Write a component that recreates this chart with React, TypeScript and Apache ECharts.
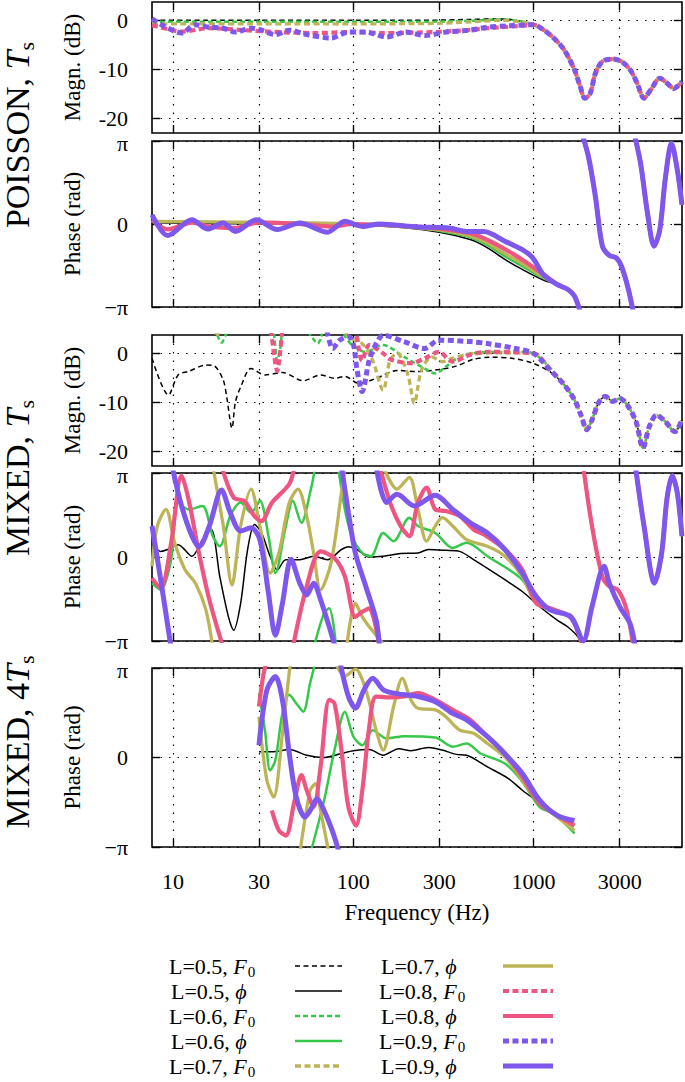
import React, { useEffect, useRef } from "react";
import * as echarts from "echarts";

type Pt = [number, number] | null;

// ---------------- axes / ticks ----------------
const FREQ_MIN = 7.66;
const FREQ_MAX = 6650;
const freqTicks = [10, 30, 100, 300, 1000, 3000];
const magnTicks = [-20, -10, 0];
const magnRange = [-23, 3.75];
const phaseTicks = [-Math.PI, 0, Math.PI];
const levels = ["0.5", "0.6", "0.7", "0.8", "0.9"];

// ---------------- Panel 1: POISSON, Ts  magnitude (dB) ----------------
const poisMagTail: Pt[] = [[1000, -0.9], [1131, -1.9], [1292, -3.6], [1476, -6.0], [1686, -10.1], [1802, -13.2], [1927, -15.9], [2059, -14.9], [2202, -10.8], [2406, -8.4], [2748, -7.9], [3070, -8.4], [3430, -10.1], [3748, -12.8], [4095, -15.9], [4475, -14.1], [5012, -11.8], [5483, -12.8], [5992, -13.9], [6648, -12.5]];
const poisMagL05: Pt[] = [[7.66, 0], [15, 0], [30, 0], [60, 0], [100, 0], [200, 0], [300, 0.05], [450, 0.2], [600, 0.3], [750, 0.2], [900, -0.4]];
const poisMagL06: Pt[] = [[7.66, -0.3], [30, -0.3], [100, -0.3], [300, -0.25], [500, 0], [650, 0.2], [800, 0]];
const poisMagL07: Pt[] = [[7.66, -0.7], [30, -0.7], [100, -0.7], [300, -0.6], [500, -0.2], [650, 0], [800, -0.2]];
const poisMagL08: Pt[] = [[7.66, -1.0], [9.4, -1.8], [11.2, -2.3], [15.9, -1.6], [24.8, -2.0], [38.7, -2.4], [60, -2.6], [100, -2.4], [146, -2.6], [228, -2.5], [356, -2.2], [555, -1.6], [865, -1.1]];
const poisMagL09: Pt[] = [[7.66, 0.3], [8.95, -1.2], [11.2, -2.6], [13.3, -0.9], [15.9, -1.4], [19, -1.6], [22.2, -2.4], [27.1, -1.6], [30.4, -1.9], [37, -2.9], [44.2, -2.0], [55.2, -2.9], [75.3, -3.6], [94, -2.4], [117, -2.4], [153, -3.4], [196, -2.4], [250, -3.1], [326, -2.4], [445, -2.0], [555, -1.4], [725, -1.1]];

// ---------------- Panel 2: POISSON, Ts  phase (rad) ----------------
const poisPhiTail: Pt[] = [[1351, -2.29], [1543, -2.47], [1686, -2.73], [1826, -3.4], null, [1858, 3.4], [2014, 2.55], [2202, 1.04], [2406, -0.84], [2629, -1.19], [2873, -1.28], [3070, -1.6], [3354, -2.47], [3585, -3.4], null, [3617, 3.4], [3918, 2.3], [4281, 0.41], [4657, -0.84], [5012, -0.21], [5363, 1.67], [5814, 3.05], [6263, 2.05], [6648, 0.73]];
const poisPhiL05: Pt[] = [[7.66, 0.05], [30, 0], [100, -0.05], [200, -0.15], [300, -0.31], [445, -0.59], [555, -0.9], [693, -1.34], [866, -1.72], [1131, -2.12]];
const poisPhiL06: Pt[] = [[7.66, 0.1], [30, 0.05], [100, 0], [200, -0.1], [300, -0.26], [445, -0.5], [555, -0.8], [693, -1.22], [866, -1.6], [1131, -2.05]];
const poisPhiL07: Pt[] = [[7.66, 0.1], [100, 0], [300, -0.22], [445, -0.45], [555, -0.72], [693, -1.12], [866, -1.5], [1131, -2.0]];
const poisPhiL08: Pt[] = [[7.66, 0.15], [9.4, -0.2], [12.8, 0.05], [16, -0.1], [22, -0.15], [30, 0.05], [50, 0], [75, -0.1], [100, 0], [200, -0.08], [300, -0.18], [445, -0.35], [555, -0.6], [693, -0.95], [866, -1.35], [1131, -1.9]];
const poisPhiL09: Pt[] = [[7.66, 0.35], [9.36, -0.44], [12.76, 0.16], [15.6, -0.19], [19.0, 0.04], [22.2, -0.28], [29, 0.16], [37.9, -0.21], [50.5, 0.04], [72, -0.31], [89.9, 0.1], [112, -0.09], [140, 0], [228, -0.11], [340, -0.15], [425, -0.28], [531, -0.28], [693, -0.65], [866, -0.97], [989, -1.28], [1131, -1.91]];

// ---------------- Panel 3: MIXED, Ts  magnitude (dB) ----------------
const mixMagTail: Pt[] = [[1476, -6.4], [1686, -9.5], [1843, -12.9], [1970, -15.6], [2107, -13.6], [2300, -10.0], [2500, -8.8], [2750, -9.8], [3003, -9.2], [3300, -10.5], [3700, -14.0], [4040, -19.3], [4376, -15.0], [4800, -12.6], [5400, -14.0], [6060, -16.0], [6648, -13.6]];
const mixMagL05: Pt[] = [[7.66, -1.0], [9.45, -8.5], [10.7, -4.4], [12.2, -3.7], [15.2, -2.4], [17.0, -2.6], [19.0, -5.4], [19.9, -9], [21.26, -15.3], [22.2, -10], [23.8, -6.8], [27.1, -3.1], [32.4, -4.4], [40.5, -3.9], [52.8, -5.6], [65.9, -4.4], [78.7, -5.1], [89.9, -4.7], [107, -6.1], [134, -5.1], [175, -3.5], [228, -3.7], [298, -3.3], [372, -2.6], [465, -1.2], [580, -0.8], [758, -1.0], [989, -2.0], [1236, -3.8]];
const mixMagL06: Pt[] = [[7.66, 6], [16.3, 6], [17.4, 4.2], [18.6, 2.2], [19.9, 4.2], [21.5, 6], [35.4, 6], [36.6, 3], [37.9, -1.5], [39.6, 1.5], [41.5, 6], [55.2, 6], [57.7, 3.8], [61.7, 2.4], [63.5, 2], [66, 3], [70, 6], [86, 6], [89.9, 3.5], [100, 1.5], [117, 0.3], [146, 1.7], [191, -0.7], [249, -3.1], [285, -4.1], [326, -2.7], [389, -0.7], [465, 0], [555, 0.3], [866, 0.3], [1000, 0], [1236, -3.0]];
const mixMagL07: Pt[] = [[7.66, 6], [16.7, 6], [17.6, 3.4], [18.6, 6], [86, 6], [94, 3.4], [112, 2.0], [128, -1.4], [146.5, -7.5], [160, -1.4], [175, 0], [200, -4.1], [218, -10.2], [239, -3.4], [273, -0.7], [312, -1.7], [356, -1.0], [465, 0], [725, 0.1], [1000, 0], [1236, -3.2]];
const mixMagL08: Pt[] = [[7.66, 6], [34, 6], [35.0, 4.5], [36.6, -1], [37.9, -3.6], [39.0, -1], [40.5, 4.5], [42, 6], [100, 6], [104, 4], [112, -1.5], [122.7, 1.7], [146.5, 0], [160, -1.2], [209, -2.0], [250, -1.0], [298, 0.3], [356, -1.7], [445, -0.3], [555, 0.3], [1000, 0], [1236, -3.4]];
const mixMagL09: Pt[] = [[7.66, 6], [70, 6], [72, 4], [77, 1.0], [84, 2.7], [94, 3.4], [100, 2], [105, -3.4], [112, -7.8], [122.7, -1.4], [134, 2], [146.5, 3.7], [191, 2.4], [249, 1.0], [298, 2.7], [445, 2.4], [555, 2.0], [792, 1.0], [1000, 0], [1236, -3.4]];

// ---------------- Panel 4: MIXED, Ts  phase (rad) ----------------
const mixPhiEnd: Pt[] = [[3666, 3.4], [4095, 1.16], [4678, -0.98], [5130, 0.15], [5483, 2.16], [5862, 3.04], [6263, 2.4], [6648, 0.78]];
const mixPhiTail: Pt[] = [[1035, -1.73], [1236, -1.92], [1543, -2.17], [1686, -2.49], [1883, -3.4], null, [1883, 3.4], [2107, 1.16], [2406, -0.73], [2629, -1.1], [2937, -1.23], [3281, -1.98], [3585, -3.4], null];
const mixPhiL05: Pt[] = [[7.66, 0.5], [8.56, 0.21], [9.36, 0.28], [10.7, 0.46], [12.76, 0.03], [14.58, 0.65], [16.29, 1.03], [18.2, -0.73], [20.33, -2.24], [21.73, -2.74], [23.75, -1.73], [25.96, 0.28], [28.37, 1.22], [31.0, 0.9], [34.6, 0.03], [37.9, -0.48], [42.3, -0.1], [50.5, -0.1], [60.3, 0.03], [72, -0.1], [86, 0.28], [94, 0.38], [105, 0.28], [122.7, 0], [146.5, 0.03], [183, 0.13], [228.5, 0.15], [261, 0.28], [326, 0.25], [389, 0.21], [465, -0.1], [693, -0.85], [866, -1.29], [1082, -1.86], [1351, -2.36], [1543, -2.61], [1763, -2.99], [1900, -3.4]];
const mixPhiL06: Pt[] = [[7.66, -0.98], [8.56, -1.23], [9.78, -0.1], [10.69, 2.04], [12.21, 1.78], [14.58, 1.91], [16.65, 0.78], [18.2, 0.4], [20.79, 1.53], [23.75, 2.04], [27.14, 1.66], [30.35, 2.1], [33.9, 0.78], [37.0, -0.6], [42.3, 1.16], [46.2, 2.1], [51.6, 1.28], [57.7, 2.41], [61.7, 3.4], null, [60.3, -3.4], [68.9, -2.1], [73.6, -1.92], [80.5, -3.4], null, [82.3, 3.4], [89.9, 1.78], [98.3, 0.78], [112.3, 0.15], [125.5, 0.03], [146.5, 0.9], [167.4, 0.59], [204.5, 1.47], [228.5, 1.16], [285, 0.9], [356, 0.34], [425, 0.53], [555, 0.03], [866, -0.85]];
const mixPhiL07: Pt[] = [[7.66, -0.35], [8.2, 1.16], [9.15, 1.78], [10.23, 0.53], [11.68, -0.48], [13.34, -0.98], [15.24, -1.98], [16.65, -3.4], null, [16.65, 3.4], [19.03, 1.16], [21.26, -1.04], [23.75, 1.16], [27.14, 2.54], [30.35, 1.16], [34.6, -0.6], [38.7, 0.15], [44.2, 2.03], [49.4, 2.54], [55.2, 1.53], [60.3, 0.15], [65.9, -1.23], [75.3, -0.23], [86, 2.41], [89.9, 3.4], null, [91.9, -3.4], [102.7, -1.73], [112.3, -2.24], [122.7, -2.61], [153, -3.4], null, [146.5, 3.4], [175, 2.54], [204.5, 2.98], [228.5, 1.78], [255, 0.59], [285, 1.16], [312, 1.47], [356, 1.16], [425, 0.65], [555, 0.4], [693, 0.03], [866, -0.73]];
const mixPhiL08: Pt[] = [[7.66, -0.79], [8.56, -1.17], [9.78, 0.53], [11.17, 3.04], [12.21, 2.16], [13.95, 0.15], [15.93, -1.6], [19.03, -3.4], null, [18.61, 3.4], [21.73, 2.22], [24.83, 2.1], [28.37, 1.53], [31.0, 1.34], [35.4, 2.03], [44.2, 2.73], [47.3, 3.4], null, [46.2, -3.4], [55.2, -1.1], [65.9, 0.21], [78.7, -0.04], [89.9, -0.73], [102.7, -2.24], [112.3, -2.05], [122.7, -1.92], [140, -3.4], null, [140, 3.4], [160, 2.04], [183, 1.16], [204.5, 0.78], [228.5, 2.04], [255, 2.6], [285, 1.78], [326, 1.72], [389, 1.53], [465, 1.03], [531, 0.84], [693, 0.28], [866, -0.48]];
const mixPhiL09: Pt[] = [[7.66, 1.16], [8.56, -0.85], [9.78, -3.4], null, [9.9, 3.4], [11.17, 1.91], [12.76, 0.78], [13.95, 0.38], [15.93, 1.16], [18.61, 2.51], [20.79, 1.66], [23.75, 0.97], [27.14, 1.09], [30.35, 0.65], [33.9, -1.36], [37.0, -2.93], [40.5, -1.73], [45.2, -0.08], [50.5, -0.98], [55.2, -1.42], [60.3, -0.98], [65.9, -1.6], [73.6, -2.61], [79.6, -3.4], null, [86, 3.4], [94, 1.66], [102.7, 0.15], [117.4, -1.1], [134, -2.36], [140, -3.4], null, [134, 3.4], [153, 2.04], [175, 2.35], [218.5, 1.91], [285, 2.31], [356, 1.78], [445, 1.28], [555, 0.9], [693, 0.28], [866, -0.6], [1035, -1.48], [1236, -1.98], [1613, -2.24], [1883, -3.14], [2107, -1.86], [2460, -0.35], [2629, -0.98], [3003, -1.86], [3430, -2.5], [3666, -3.4], null];

// ---------------- Panel 5: MIXED, 4Ts  phase (rad) ----------------
const mix4PhiL05: Pt[] = [[30, 0.2], [35.4, 0.2], [44.2, 0.28], [55.2, 0.08], [68.9, 0], [86, 0.14], [100, 0.24], [122.7, 0.28], [146.5, 0.08], [178.9, 0.31], [209, 0.24], [261, 0.35], [311.8, 0.26], [372.5, 0.11], [425.5, 0.08], [555, -0.33], [725, -0.74], [866, -1.15], [1082, -1.6], [1292, -1.97], [1476, -2.21], [1686, -2.66]];
const mix4PhiL06: Pt[] = [[30, 2.26], [32.4, 0.96], [34.6, -0.45], [37.0, -0.1], [40.5, 1.55], [44.2, 2.2], [48.3, 1.9], [52.8, 1.61], [57.7, 2.62], [62, 3.4], null, [57.7, -3.4], [68.9, -1.51], [78.7, 0.26], [89.9, 1.61], [100.3, 0.73], [112.3, 0.43], [128.3, 0.96], [153, 0.67], [191, 0.75], [285, 0.7], [356, 0.38], [425, 0.49], [508, 0.14], [693, -0.21], [866, -0.85], [1082, -1.74], [1292, -1.97], [1686, -2.66]];
const mix4PhiL07: Pt[] = [[30, 1.43], [33.2, -0.8], [36.2, -1.39], [40.5, 0.85], [44.2, 3.0], [45.2, 3.4], null, [50.5, -3.4], [57.7, -1.15], [61.7, -0.92], [65.9, -1.86], [73.6, -3.4], null, [78.7, 3.4], [89.9, 2.85], [102.7, 3.1], [117.4, 2.38], [134, 0.96], [146.5, 0.26], [167.4, 1.79], [187, 2.78], [209, 2.02], [228.5, 1.73], [285, 1.67], [326, 1.43], [389, 0.96], [465, 0.85], [555, 0.49], [693, 0.02], [866, -0.8], [1082, -1.62], [1351, -2.09], [1686, -2.56]];
const mix4PhiL08: Pt[] = [[30, 1.79], [31.7, 2.87], [33.2, 3.4], null, [35.4, -1.86], [38.7, -2.56], [42.3, -2.74], [47.3, -1.5], [51.6, -0.62], [55.2, -1.15], [60.3, -1.74], [65.9, -0.33], [73.6, 2.02], [78.7, 1.9], [86, 0.26], [94, -1.74], [103.6, -2.39], [112.3, -1.15], [122.7, 1.08], [134, 2.14], [160, 2.11], [191, 2.14], [228.5, 2.26], [285, 2.02], [356, 1.67], [445, 1.32], [555, 0.73], [693, 0.14], [866, -0.68], [1082, -1.62], [1351, -2.03], [1686, -2.39]];
const mix4PhiL09: Pt[] = [[30, 0.43], [33.2, 2.37], [37.0, 2.84], [40.5, 2.02], [44.2, 0.14], [48.3, -1.39], [54.0, -2.09], [57.7, -1.86], [63.0, -1.45], [68.9, -1.86], [77, -2.62], [84.1, -3.4], null, [84.1, 3.4], [94, 2.14], [102.7, 1.73], [114.8, 2.38], [128.3, 2.78], [146.5, 2.38], [167.4, 2.26], [228.5, 2.14], [285, 1.96], [356, 1.55], [425, 1.32], [555, 0.73], [663, 0.26], [866, -0.56], [1082, -1.5], [1351, -2.03], [1686, -2.21]];

// ---------------- assembly ----------------
const panelData: Pt[][][] = [
  [poisMagL05.concat(poisMagTail), poisMagL06.concat(poisMagTail), poisMagL07.concat(poisMagTail), poisMagL08.concat(poisMagTail), poisMagL09.concat(poisMagTail)],
  [poisPhiL05.concat(poisPhiTail), poisPhiL06.concat(poisPhiTail), poisPhiL07.concat(poisPhiTail), poisPhiL08.concat(poisPhiTail), poisPhiL09.concat(poisPhiTail)],
  [mixMagL05.concat(mixMagTail), mixMagL06.concat(mixMagTail), mixMagL07.concat(mixMagTail), mixMagL08.concat(mixMagTail), mixMagL09.concat(mixMagTail)],
  [mixPhiL05, mixPhiL06.concat(mixPhiTail, mixPhiEnd), mixPhiL07.concat(mixPhiTail, mixPhiEnd), mixPhiL08.concat(mixPhiTail, mixPhiEnd), mixPhiL09.concat(mixPhiEnd)],
  [mix4PhiL05, mix4PhiL06, mix4PhiL07, mix4PhiL08, mix4PhiL09],
];

const SERIF = "Liberation Serif, Times New Roman, DejaVu Serif, serif";
const COLORS = ["#000000", "#35c84a", "#bdb457", "#ee5580", "#7e58ec"];
const WIDTHS = [1.5, 2.5, 3.3, 4.2, 5];
const DASHES = [[5, 3.5], [5, 3], [6, 3.5], [6, 3.5], [6, 3.5]];

const PANELS = [
  { top: 2, height: 131, magn: true, yName: "Magn. (dB)", f0: true },
  { top: 141, height: 166, magn: false, yName: "Phase (rad)", f0: false },
  { top: 335, height: 131, magn: true, yName: "Magn. (dB)", f0: true },
  { top: 473, height: 168, magn: false, yName: "Phase (rad)", f0: false },
  { top: 668, height: 179, magn: false, yName: "Phase (rad)", f0: false },
];

const toXY = (pts: Pt[]) => pts.map((p) => (p ? [Math.log10(p[0]), p[1]] : ["-", "-"]));

let measureCtx: CanvasRenderingContext2D | null = null;
function textWidth(str: string, size: number, italic = false) {
  if (!measureCtx) measureCtx = document.createElement("canvas").getContext("2d");
  if (!measureCtx) return str.length * size * 0.5;
  measureCtx.font = `${italic ? "italic " : ""}${size}px ${SERIF}`;
  return measureCtx.measureText(str).width;
}

// rich styles so every axis text uses the serif face
const tickRich = {
  t: { fontSize: 22, fontFamily: SERIF, color: "#000", lineHeight: 16 },
  top: { fontSize: 22, fontFamily: SERIF, color: "#000", lineHeight: 16, padding: [5, 0, 0, 0] },
};
const nameRich = { n: { fontSize: 23, fontFamily: SERIF, color: "#000", lineHeight: 24 } };

function buildOption() {
  const xTickVals = freqTicks.map((f) => Math.log10(f));
  const dotted = { color: "#000", width: 1.2, type: [1.5, 7] as any };
  const tickStyle = { color: "#000", width: 1.4 };
  const grid: any[] = [];
  const xAxis: any[] = [];
  const yAxis: any[] = [];
  const series: any[] = [];

  PANELS.forEach((p, i) => {
    grid.push({ left: 152, width: 530, top: p.top, height: p.height, show: true, borderColor: "#000", borderWidth: 1.6, backgroundColor: "transparent", containLabel: false, outerBoundsMode: "none" });
    const last = i === PANELS.length - 1;
    xAxis.push({
      type: "value", gridIndex: i, position: "bottom", min: Math.log10(FREQ_MIN), max: Math.log10(FREQ_MAX),
      axisLine: { show: false, onZero: false },
      axisTick: { show: true, inside: true, length: 8, customValues: xTickVals, lineStyle: tickStyle },
      axisLabel: { show: last, customValues: xTickVals, formatter: (v: number) => `{t|${Math.round(Math.pow(10, v))}}`, margin: 26, rich: tickRich, fontFamily: SERIF, fontSize: 22, color: "#000" },
      splitLine: { show: true, lineStyle: dotted },
      name: last ? "{n|Frequency (Hz)}" : "", nameLocation: "middle", nameGap: 53,
      nameTextStyle: { rich: nameRich, fontFamily: SERIF, fontSize: 23, color: "#000" },
    });
    xAxis.push({
      type: "value", gridIndex: i, position: "top", min: Math.log10(FREQ_MIN), max: Math.log10(FREQ_MAX),
      axisLine: { show: false, onZero: false },
      axisTick: { show: true, inside: true, length: 8, customValues: xTickVals, lineStyle: tickStyle },
      axisLabel: { show: false, customValues: xTickVals },
      splitLine: { show: false },
    });
    const yTicks = p.magn ? magnTicks : phaseTicks;
    const yMin = p.magn ? magnRange[0] : -Math.PI;
    const yMax = p.magn ? magnRange[1] : Math.PI;
    const fmt = p.magn
      ? (v: number) => `{t|${Math.round(v)}}`
      : (v: number) => (v > 3 ? "{top|π}" : v < -3 ? "{t|−π}" : "{t|0}");
    yAxis.push({
      type: "value", gridIndex: i, position: "left", min: yMin, max: yMax,
      axisLine: { show: false, onZero: false },
      axisTick: { show: true, inside: true, length: 8, customValues: yTicks, lineStyle: tickStyle },
      axisLabel: { show: true, customValues: yTicks, formatter: fmt, margin: 24, rich: tickRich, fontFamily: SERIF, fontSize: 22, color: "#000" },
      splitLine: { show: true, lineStyle: dotted },
      name: `{n|${p.yName}}`, nameLocation: "middle", nameRotate: 90, nameGap: 68,
      nameTextStyle: { rich: nameRich, fontFamily: SERIF, fontSize: 23, color: "#000" },
    });
    yAxis.push({
      type: "value", gridIndex: i, position: "right", min: yMin, max: yMax,
      axisLine: { show: false, onZero: false },
      axisTick: { show: true, inside: true, length: 8, customValues: yTicks, lineStyle: tickStyle },
      axisLabel: { show: false, customValues: yTicks },
      splitLine: { show: false },
    });
    panelData[i].forEach((pts, k) => {
      series.push({
        type: "line",
        name: `L=${levels[k]}, ${p.f0 ? "F0" : "ϕ"}`,
        xAxisIndex: 2 * i, yAxisIndex: 2 * i,
        data: toXY(pts),
        showSymbol: false, symbol: "none", smooth: 0.3, connectNulls: false, clip: true,
        lineStyle: { color: COLORS[k], width: WIDTHS[k], type: p.f0 ? DASHES[k] : "solid", cap: "butt" },
        silent: true, z: 2 + k,
      });
    });
  });

  const graphic: any[] = [];

  // Group titles (rotated, reading bottom to top) with italic T and subscript s
  const TITLE_SIZE = 34;
  const SUB_SIZE = 22;
  const titles = [
    { plain: "POISSON, ", yc: 135 },
    { plain: "MIXED, ", yc: 478 },
    { plain: "MIXED, 4", yc: 742 },
  ];
  const titleRich = {
    a: { fontSize: TITLE_SIZE, fontFamily: SERIF, fill: "#000", lineHeight: 35 },
    i: { fontSize: TITLE_SIZE, fontFamily: SERIF, fontStyle: "italic", fill: "#000", lineHeight: 35 },
  };
  titles.forEach((t) => {
    const wMain = textWidth(t.plain, TITLE_SIZE) + textWidth("T", TITLE_SIZE, true);
    const wSub = textWidth("s", SUB_SIZE);
    const total = wMain + wSub;
    const startY = t.yc + total / 2;
    graphic.push({
      type: "text", x: 17.5, y: startY, rotation: Math.PI / 2,
      style: { text: `{a|${t.plain}}{i|T}`, rich: titleRich, align: "left", verticalAlign: "middle", textAlign: "left", textVerticalAlign: "middle" },
    });
    graphic.push({
      type: "text", x: 26.5, y: startY - wMain, rotation: Math.PI / 2,
      style: { text: "{s|s}", rich: { s: { fontSize: SUB_SIZE, fontFamily: SERIF, fill: "#000", lineHeight: 22 } }, align: "left", verticalAlign: "middle", textAlign: "left", textVerticalAlign: "middle" },
    });
  });

  // Key (legend)
  const LEG_SIZE = 22;
  const LEG_SUB = 15;
  const legRich = {
    a: { fontSize: LEG_SIZE, fontFamily: SERIF, fill: "#000", lineHeight: 24 },
    i: { fontSize: LEG_SIZE, fontFamily: SERIF, fontStyle: "italic", fill: "#000", lineHeight: 24 },
    s: { fontSize: LEG_SUB, fontFamily: SERIF, fill: "#000", lineHeight: 16 },
  };
  for (let j = 0; j < 10; j++) {
    const lv = Math.floor(j / 2);
    const f0 = j % 2 === 0;
    const col = j < 5 ? 0 : 1;
    const row = j % 5;
    const y = 966 + row * 25;
    const tx = col === 0 ? (f0 ? 169 : 171) : (f0 ? 379 : 381);
    const head = `L=${levels[lv]}, `;
    graphic.push({
      type: "text", x: tx, y,
      style: { text: f0 ? `{a|${head}}{i|F}` : `{a|${head}}{i|ϕ}`, rich: legRich, align: "left", verticalAlign: "middle", textAlign: "left", textVerticalAlign: "middle" },
    });
    if (f0) {
      const w = textWidth(head, LEG_SIZE) + textWidth("F", LEG_SIZE, true);
      graphic.push({
        type: "text", x: tx + w + 1, y: y + 6,
        style: { text: "{s|0}", rich: legRich, align: "left", verticalAlign: "middle", textAlign: "left", textVerticalAlign: "middle" },
      });
    }
    const x1 = col === 0 ? 295 : 503;
    const x2 = col === 0 ? 342 : 553;
    graphic.push({
      type: "line", shape: { x1, y1: y, x2, y2: y },
      style: { stroke: COLORS[lv], lineWidth: WIDTHS[lv], lineDash: f0 ? DASHES[lv] : null },
    });
  }

  return { animation: false, backgroundColor: "#fff", textStyle: { fontFamily: SERIF, color: "#000" }, grid, xAxis, yAxis, series, graphic };
}

export default function App() {
  const ref = useRef<HTMLDivElement>(null);
  useEffect(() => {
    if (!ref.current) return;
    const chart = echarts.init(ref.current, null, { renderer: "svg" });
    chart.setOption(buildOption() as any);
    return () => chart.dispose();
  }, []);
  return <div ref={ref} style={{ position: "fixed", left: 0, top: 0, width: 685, height: 1082 }} />;
}
